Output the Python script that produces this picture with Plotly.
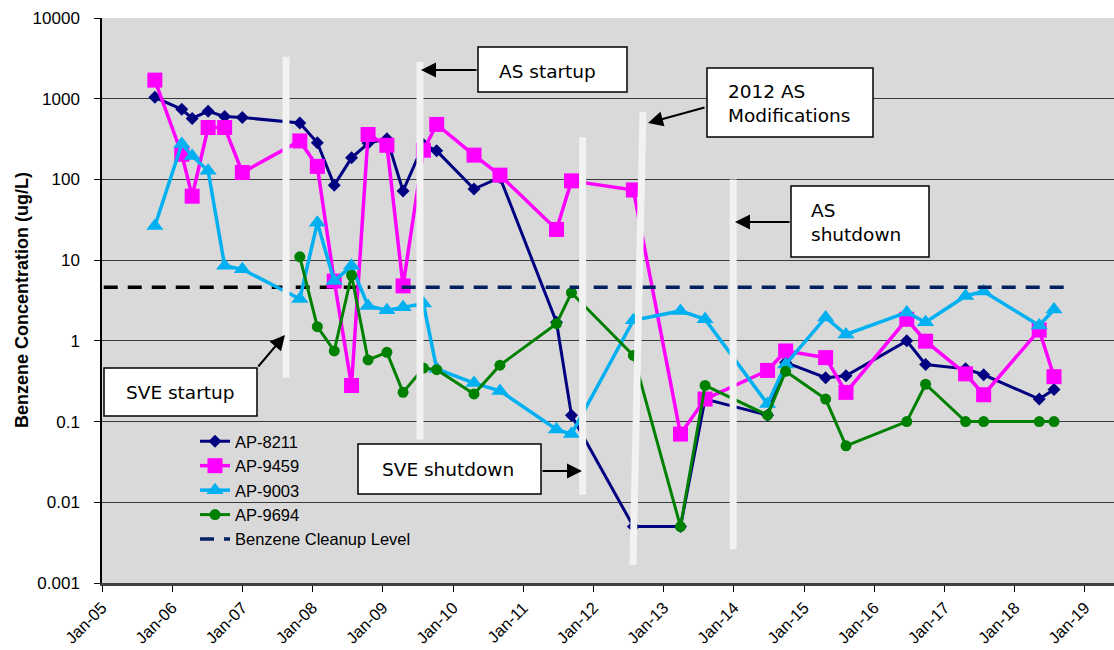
import plotly.graph_objects as go

# ---------------- data ----------------
sample_dates = [
    "2005-10-03", "2006-02-20", "2006-04-15", "2006-07-07", "2006-10-01", "2007-01-01",
    "2007-10-27", "2008-01-26", "2008-04-23", "2008-07-22", "2008-10-16", "2009-01-22",
    "2009-04-16", "2009-07-31", "2009-10-08", "2010-04-20", "2010-09-02", "2011-06-23",
    "2011-09-09", "2012-07-27", "2013-03-29", "2013-08-04", "2014-06-25", "2014-09-27",
    "2015-04-23", "2015-08-07", "2016-06-18", "2016-09-24", "2017-04-20", "2017-07-23",
    "2018-05-08", "2018-07-24",
]
ap8211 = [1040, 740, 570, 700, 600, 585, 500, 285, 85, 185, 280, 320,
          72, 270, 226, 76, 106, 1.7, 0.12, 0.005, 0.005, 0.19, 0.12, 0.54,
          0.35, 0.37, 1.0, 0.51, 0.45, 0.38, 0.19, 0.25]
ap9459 = [1700, 205, 62, 440, 440, 122, 300, 145, 5.5, 0.28, 360, 265,
          4.8, 230, 480, 200, 113, 24, 96, 74, 0.07, 0.19, 0.43, 0.75,
          0.62, 0.23, 1.85, 0.99, 0.39, 0.215, 1.36, 0.36]
ap9003 = [26.5, 275, 195, 128, 8.5, 7.7, 3.3, 29, 5.5, 8.5, 2.7, 2.4,
          2.6, 2.9, 0.45, 0.30, 0.24, 0.08, 0.07, 1.8, 2.35, 1.85, 0.165, 0.51,
          1.95, 1.2, 2.25, 1.7, 3.6, 4.1, 1.55, 2.45]
ap9694 = [None, None, None, None, None, None, 11, 1.5, 0.75, 6.5, 0.58, 0.72,
          0.23, 0.46, 0.44, 0.22, 0.5, 1.63, 3.95, 0.66, 0.005, 0.28, 0.12, 0.42,
          0.19, 0.05, 0.1, 0.29, 0.1, 0.1, 0.1, 0.1]

cleanup_dates = ["2008-12-05", "2018-10-25"]
cleanup_level = [4.6, 4.6]
early_cleanup_dates = ["2005-01-10", "2008-10-28"]

y_tickvals = [0.001, 0.01, 0.1, 1, 10, 100, 1000, 10000]
y_ticktext = ["0.001", "0.01", "0.1", "1", "10", "100", "1000", "10000"]

# event bars: (x0, y0, x1, y1) in data units
event_bars = [
    ("2007-08-16", 0.35, "2007-08-16", 3300),     # SVE startup
    ("2009-07-13", 0.06, "2009-07-13", 2850),     # AS startup
    ("2011-11-06", 0.0124, "2011-11-06", 334),    # SVE shutdown
    ("2012-07-25", 0.00168, "2012-09-15", 682),   # 2012 AS modifications
    ("2013-12-28", 0.0026, "2013-12-28", 100),    # AS shutdown
]

# ---------------- figure geometry (window pixels) ----------------
W, H = 1114, 650
PLOT_L, PLOT_T, PLOT_R, PLOT_B = 102, 18, 1114, 583
ML, MT, MR, MB = PLOT_L, PLOT_T, W - PLOT_R, H - PLOT_B
PW, PH = PLOT_R - PLOT_L, PLOT_B - PLOT_T


def px(xp):
    return (xp - PLOT_L) / PW


def py(yp):
    return (PLOT_B - yp) / PH


FONT = "Liberation Sans, Arial, sans-serif"
BOXFONT = "DejaVu Sans, Verdana, sans-serif"

fig = go.Figure()

series = [
    ("AP-8211", ap8211, "#000080", "diamond", 10, 3),
    ("AP-9459", ap9459, "#ff00ff", "square", 15, 3.5),
    ("AP-9003", ap9003, "#00b0f0", "triangle-up", 15, 3.5),
    ("AP-9694", ap9694, "#008000", "circle", 11, 3),
]
for name, vals, col, sym, sz, lw in series:
    fig.add_trace(go.Scatter(
        x=sample_dates, y=vals, name=name, mode="lines+markers",
        line=dict(color=col, width=lw),
        marker=dict(symbol=sym, size=sz, color=col, line=dict(width=0)),
        connectgaps=False,
    ))

fig.add_trace(go.Scatter(
    x=cleanup_dates, y=cleanup_level, name="Benzene Cleanup Level", mode="lines",
    line=dict(color="#002060", width=3.5, dash="14px,10px"),
))

shapes = []
shapes.append(dict(type="line", xref="x", yref="y",
                   x0=early_cleanup_dates[0], x1=early_cleanup_dates[1],
                   y0=cleanup_level[0], y1=cleanup_level[1],
                   line=dict(color="black", width=3.5, dash="14px,10px"), layer="between"))
for x0, y0, x1, y1 in event_bars:
    shapes.append(dict(type="line", xref="x", yref="y", x0=x0, y0=y0, x1=x1, y1=y1,
                       line=dict(color="#f2f2f2", width=7), layer="above"))

boxes = [
    (104, 368, 257, 416),
    (478, 47, 627, 92),
    (707, 68, 873, 137),
    (791, 186, 929, 257),
    (358, 444, 541, 494),
]
for x0, y0, x1, y1 in boxes:
    shapes.append(dict(type="rect", xref="paper", yref="paper",
                       x0=px(x0), x1=px(x1), y0=py(y1), y1=py(y0),
                       fillcolor="white", line=dict(color="black", width=1.5), layer="above"))

annotations = []
box_texts = [
    ("SVE startup", 180, 392, "center"),
    ("AS startup", 547, 71, "center"),
    ("2012 AS<br>Modifications", 727, 104, "left"),
    ("AS<br>shutdown", 810, 222, "left"),
    ("SVE shutdown", 448, 469, "center"),
]
for t, xx, yy, anc in box_texts:
    annotations.append(dict(text=t, xref="paper", yref="paper", x=px(xx), y=py(yy),
                            xanchor=anc, yanchor="middle", align="left", showarrow=False,
                            borderpad=0, font=dict(family=BOXFONT, size=18.5, color="black")))

arrows = [
    ((257, 368), (285, 335)),
    ((478, 70), (421, 70)),
    ((706, 107), (648, 123)),
    ((791, 222), (735, 222)),
    ((541, 471), (582, 471)),
]
for (tx, ty), (hx, hy) in arrows:
    annotations.append(dict(text="", xref="paper", yref="paper", x=px(hx), y=py(hy),
                            ax=tx - hx, ay=ty - hy, showarrow=True, arrowhead=2,
                            arrowsize=1.5, arrowwidth=2, arrowcolor="black"))

annotations.append(dict(text="<b>Benzene Concentration (ug/L)</b>", xref="paper", yref="paper",
                        x=px(22), y=py(300), textangle=-90, showarrow=False,
                        xanchor="center", yanchor="middle",
                        font=dict(family=FONT, size=18, color="black")))

fig.update_layout(
    width=W, height=H,
    margin=dict(l=ML, r=MR, t=MT, b=MB, autoexpand=False),
    paper_bgcolor="white", plot_bgcolor="#d9d9d9",
    font=dict(family=FONT, color="black"),
    shapes=shapes, annotations=annotations,
    hovermode=False,
    legend=dict(x=px(195), y=py(424), xanchor="left", yanchor="top",
                bgcolor="rgba(0,0,0,0)", font=dict(family=FONT, size=16.5, color="black")),
)
fig.update_xaxes(
    type="date", range=["2005-01-01", "2019-06-01"], tick0="2005-01-01", dtick="M12",
    tickformat="%b-%y", tickangle=-45, ticks="outside", ticklen=6, tickcolor="black",
    showgrid=False, zeroline=False, showline=True, linecolor="#404040", linewidth=2.5,
    tickfont=dict(family=FONT, size=16.5, color="black"), automargin=False,
)
fig.update_yaxes(
    type="log", range=[-3, 4], tickvals=y_tickvals, ticktext=y_ticktext,
    ticks="outside", ticklen=6, tickcolor="black", ticklabelstandoff=11,
    showgrid=True, gridcolor="#3a3a3a", gridwidth=1, zeroline=False,
    showline=True, linecolor="black", linewidth=1.5,
    tickfont=dict(family=FONT, size=17, color="black"), automargin=False,
)

page_fix = ("document.documentElement.style.overflow='hidden';"
            "document.body.style.margin='0';"
            "document.body.style.overflow='hidden';")

fig.write_html("out.html", post_script=page_fix, config={"displayModeBar": False})
